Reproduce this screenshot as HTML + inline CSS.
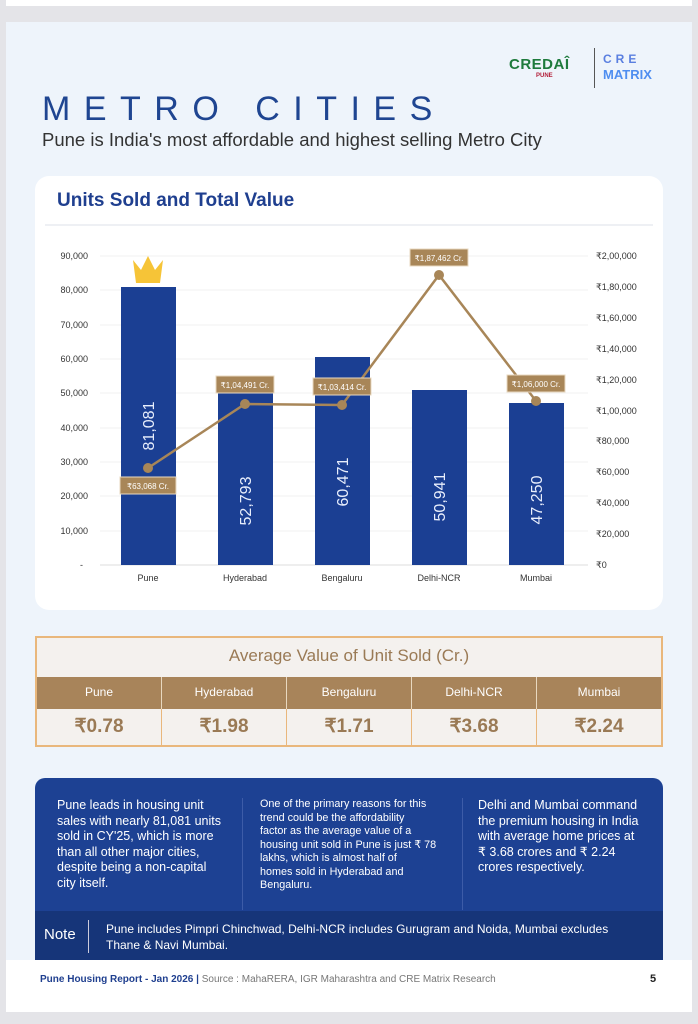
<!DOCTYPE html>
<html><head><meta charset="utf-8"><style>
*{margin:0;padding:0;box-sizing:border-box}
body{width:698px;height:1024px;background:#e4e4e8;font-family:"Liberation Sans",sans-serif;position:relative;overflow:hidden}
.top{position:absolute;left:6px;top:0;width:686px;height:6px;background:#fff}
.page{position:absolute;left:6px;top:22px;width:686px;height:990px;background:#eef4fb}
.abs{position:absolute}
.nw{white-space:nowrap}
</style></head><body>
<div class="top"></div>
<div class="page">
  <div class="abs" style="left:503px;top:34px;font-weight:bold;font-size:15px;color:#1e7a3c;letter-spacing:0.5px">CREDAÎ</div>
  <div class="abs" style="left:530px;top:51px;font-size:6px;color:#b3203a;font-weight:bold">PUNE</div>
  <div class="abs" style="left:588px;top:26px;width:1px;height:40px;background:#555"></div>
  <div class="abs" style="left:597px;top:30px;font-weight:bold;font-size:12px;color:#5a7fe0;letter-spacing:4px">CRE</div>
  <div class="abs" style="left:597px;top:45px;font-weight:bold;font-size:13px;color:#4f8ef0">MATRIX</div>
  <div class="abs" style="left:36px;top:68px;font-size:34px;color:#1f4591;letter-spacing:13.5px">METRO CITIES</div>
  <div class="abs" style="left:36px;top:107px;font-size:18.5px;color:#333">Pune is India's most affordable and highest selling Metro City</div>
</div>
<div class="abs" style="left:35px;top:176px;width:628px;height:434px;background:#fff;border-radius:14px"></div>
<div class="abs" style="left:57px;top:190px;font-size:19px;font-weight:bold;color:#1f3f8f">Units Sold and Total Value</div>
<div class="abs" style="left:45px;top:224px;width:608px;height:2px;background:#eef0f4"></div>
<svg class="abs" style="left:0;top:0" width="698" height="620" font-family="Liberation Sans, sans-serif">
  <g stroke="#f0f0f0" stroke-width="1">
    <line x1="100" y1="256" x2="588" y2="256"/><line x1="100" y1="290" x2="588" y2="290"/><line x1="100" y1="325" x2="588" y2="325"/><line x1="100" y1="359" x2="588" y2="359"/><line x1="100" y1="393" x2="588" y2="393"/><line x1="100" y1="428" x2="588" y2="428"/><line x1="100" y1="462" x2="588" y2="462"/><line x1="100" y1="496" x2="588" y2="496"/><line x1="100" y1="531" x2="588" y2="531"/>
  </g>
  <line x1="100" y1="565" x2="588" y2="565" stroke="#ddd"/>
  <g font-size="9" fill="#333" text-anchor="end">
    <text x="88" y="259">90,000</text><text x="88" y="293">80,000</text><text x="88" y="328">70,000</text><text x="88" y="362">60,000</text><text x="88" y="396">50,000</text><text x="88" y="431">40,000</text><text x="88" y="465">30,000</text><text x="88" y="499">20,000</text><text x="88" y="534">10,000</text><text x="83" y="568">-</text>
  </g>
  <g font-size="9" fill="#333">
    <text x="596" y="259">₹2,00,000</text><text x="596" y="290">₹1,80,000</text><text x="596" y="321">₹1,60,000</text><text x="596" y="352">₹1,40,000</text><text x="596" y="383">₹1,20,000</text><text x="596" y="414">₹1,00,000</text><text x="596" y="444">₹80,000</text><text x="596" y="475">₹60,000</text><text x="596" y="506">₹40,000</text><text x="596" y="537">₹20,000</text><text x="596" y="568">₹0</text>
  </g>
  <g fill="#1b3f93">
    <rect x="121" y="287" width="55" height="278"/><rect x="218" y="384" width="55" height="181"/><rect x="315" y="357" width="55" height="208"/><rect x="412" y="390" width="55" height="175"/><rect x="509" y="403" width="55" height="162"/>
  </g>
  <g font-size="16" fill="#e8eefc" text-anchor="middle">
    <text transform="translate(154,426) rotate(-90)">81,081</text>
    <text transform="translate(251,501) rotate(-90)">52,793</text>
    <text transform="translate(348,482) rotate(-90)">60,471</text>
    <text transform="translate(445,497) rotate(-90)">50,941</text>
    <text transform="translate(542,500) rotate(-90)">47,250</text>
  </g>
  <path d="M136 283 L133 260 L141 270 L148 256 L155 270 L163 260 L160 283 Z" fill="#f6c437"/>
  <g font-size="9" fill="#333" text-anchor="middle">
    <text x="148" y="581">Pune</text><text x="245" y="581">Hyderabad</text><text x="342" y="581">Bengaluru</text><text x="439" y="581">Delhi-NCR</text><text x="536" y="581">Mumbai</text>
  </g>
  <polyline points="148,468 245,404 342,405 439,275 536,401" fill="none" stroke="#a88658" stroke-width="2.5"/>
  <g fill="#a88658"><circle cx="148" cy="468" r="5"/><circle cx="245" cy="404" r="5"/><circle cx="342" cy="405" r="5"/><circle cx="439" cy="275" r="5"/><circle cx="536" cy="401" r="5"/></g>
  <g fill="#a88658" stroke="#e8d8c0" stroke-width="1">
    <rect x="120" y="477" width="56" height="17"/><rect x="216" y="376" width="58" height="17"/><rect x="313" y="378" width="58" height="17"/><rect x="410" y="249" width="58" height="17"/><rect x="507" y="375" width="58" height="17"/>
  </g>
  <g font-size="8" fill="#fff" text-anchor="middle">
    <text x="148" y="489">₹63,068 Cr.</text><text x="245" y="388">₹1,04,491 Cr.</text><text x="342" y="390">₹1,03,414 Cr.</text><text x="439" y="261">₹1,87,462 Cr.</text><text x="536" y="387">₹1,06,000 Cr.</text>
  </g>
</svg>
<div class="abs" style="left:35px;top:636px;width:628px;height:111px;border:2px solid #e9b77c;background:#f4f1ee">
  <div style="height:39px;line-height:36px;text-align:center;font-size:17px;color:#9a7a55">Average Value of Unit Sold (Cr.)</div>
  <div style="display:flex;height:32px;background:#a8845a;color:#fff;font-size:12px">
    <div style="flex:1;text-align:center;line-height:30px;border-right:1px solid #e8d8c0">Pune</div><div style="flex:1;text-align:center;line-height:30px;border-right:1px solid #e8d8c0">Hyderabad</div><div style="flex:1;text-align:center;line-height:30px;border-right:1px solid #e8d8c0">Bengaluru</div><div style="flex:1;text-align:center;line-height:30px;border-right:1px solid #e8d8c0">Delhi-NCR</div><div style="flex:1;text-align:center;line-height:30px">Mumbai</div>
  </div>
  <div style="display:flex;height:36px;color:#9a7a55;font-size:19px;font-weight:bold">
    <div style="flex:1;text-align:center;line-height:36px;border-right:1px solid #e9b77c">₹0.78</div><div style="flex:1;text-align:center;line-height:36px;border-right:1px solid #e9b77c">₹1.98</div><div style="flex:1;text-align:center;line-height:36px;border-right:1px solid #e9b77c">₹1.71</div><div style="flex:1;text-align:center;line-height:36px;border-right:1px solid #e9b77c">₹3.68</div><div style="flex:1;text-align:center;line-height:36px">₹2.24</div>
  </div>
</div>
<div class="abs" style="left:35px;top:778px;width:628px;height:182px;background:#1d4193;border-radius:10px 10px 0 0;color:#fff">
  <div class="abs nw" style="left:22px;top:20px;font-size:12.5px;line-height:15.5px">Pune leads in housing unit<br>sales with nearly 81,081 units<br>sold in CY'25, which is more<br>than all other major cities,<br>despite being a non-capital<br>city itself.</div>
  <div class="abs" style="left:207px;top:20px;width:1px;height:112px;background:#3d5ca8"></div>
  <div class="abs nw" style="left:225px;top:20px;font-size:10.8px;line-height:13.5px">One of the primary reasons for this<br>trend could be the affordability<br>factor as the average value of a<br>housing unit sold in Pune is just ₹ 78<br>lakhs, which is almost half of<br>homes sold in Hyderabad and<br>Bengaluru.</div>
  <div class="abs" style="left:427px;top:20px;width:1px;height:112px;background:#3d5ca8"></div>
  <div class="abs nw" style="left:443px;top:20px;font-size:12.5px;line-height:15.5px">Delhi and Mumbai command<br>the premium housing in India<br>with average home prices at<br>₹ 3.68 crores and ₹ 2.24<br>crores respectively.</div>
  <div class="abs" style="left:0;top:133px;width:628px;height:49px;background:#163579">
    <div class="abs" style="left:9px;top:15px;font-size:15px">Note</div>
    <div class="abs" style="left:53px;top:9px;width:1px;height:33px;background:#ccd"></div>
    <div class="abs nw" style="left:71px;top:10px;font-size:12px;line-height:16px">Pune includes Pimpri Chinchwad, Delhi-NCR includes Gurugram and Noida, Mumbai excludes<br>Thane &amp; Navi Mumbai.</div>
  </div>
</div>
<div class="abs" style="left:6px;top:960px;width:686px;height:52px;background:#fff"></div>
<div class="abs" style="left:40px;top:974px;font-size:10px;color:#1f3f8f;font-weight:bold">Pune Housing Report - Jan 2026 | <span style="font-weight:normal;color:#777">Source : MahaRERA, IGR Maharashtra and CRE Matrix Research</span></div>
<div class="abs" style="left:650px;top:973px;font-size:11px;color:#222;font-weight:bold">5</div>
</body></html>
